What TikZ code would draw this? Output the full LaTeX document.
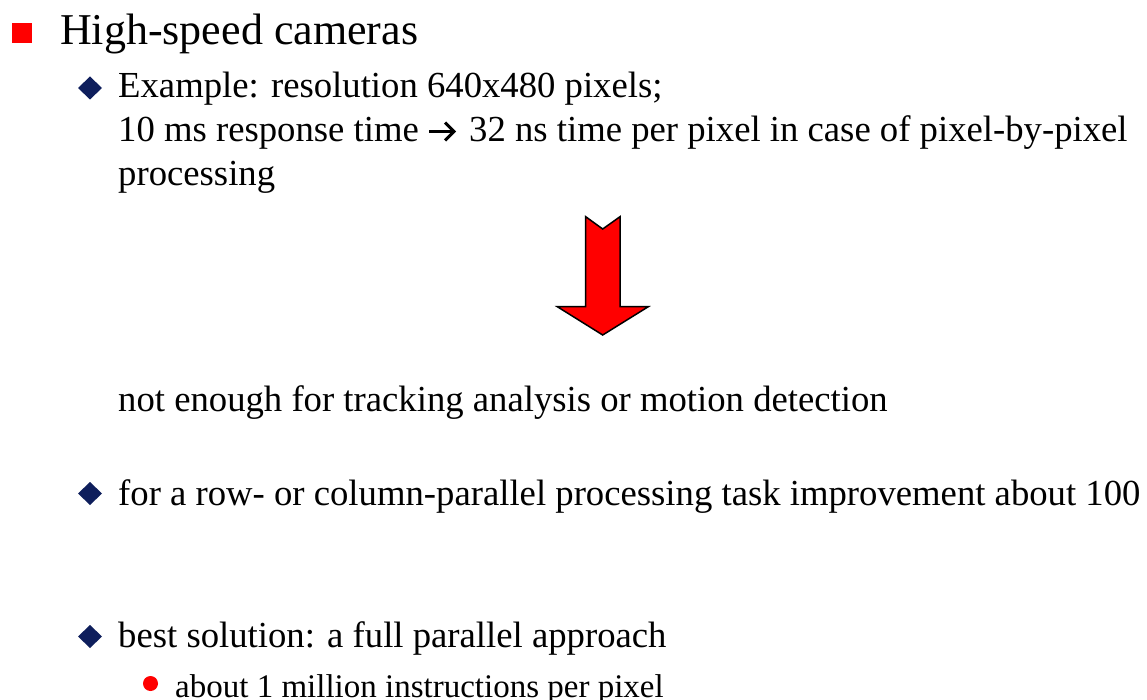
\documentclass[tikz,border=0pt]{standalone}
\usepackage{fontspec}
\setmainfont{Liberation Serif}
\definecolor{bulletnavy}{RGB}{14,30,92}
\definecolor{slidered}{RGB}{255,0,0}

\begin{document}
\begin{tikzpicture}[x=1pt,y=-1pt,
  lvlone/.style={anchor=base west, inner sep=0pt, font=\fontsize{44}{52}\selectfont},
  lvltwo/.style={anchor=base west, inner sep=0pt, font=\fontsize{36.7}{44}\selectfont},
  lvlthree/.style={anchor=base west, inner sep=0pt, font=\fontsize{33}{40}\selectfont},
  navydiamond/.pic={\fill[bulletnavy] (-12,0) -- (0,-11.5) -- (12,0) -- (0,11.5) -- cycle;},
  reddot/.pic={\fill[slidered] (0,0) circle[radius=7.5];},
  redsquare/.pic={\fill[slidered] (-10,-10) rectangle (10,10);},
  bigarrow/.style={fill=slidered, draw=black, line width=1.5pt, line join=miter},
  textarrow/.style={draw=black, line width=3pt, line join=miter},
]
\useasboundingbox (0,0) rectangle (1147,700);
\fill[white] (0,0) rectangle (1147,700);

% bullets
\pic at (22,33) {redsquare};
\pic at (90,88) {navydiamond};
\pic at (90,493.5) {navydiamond};
\pic at (90,636.5) {navydiamond};
\pic at (150.5,683.5) {reddot};

% block arrow
\draw[bigarrow] (585.7,216.7) -- (602.7,229) -- (620,216.7) -- (620,306.7)
  -- (648.3,306.7) -- (602.7,335) -- (557.3,306.7) -- (585.7,306.7) -- cycle;

% text
\node[lvlone] (title) at (60,45) {High-speed cameras};
\node[lvltwo] (exone) at (118,98) {Example: resolution 640x480 pixels;};
\node[lvltwo] (extwoa) at (118,142) {10 ms response time};
\node[lvltwo] (extwob) at (469,142) {32 ns time per pixel in case of pixel-by-pixel};
\node[lvltwo] (exthree) at (118,186) {processing};
\node[lvltwo] (notenough) at (118,411) {not enough for tracking analysis or motion detection};
\node[lvltwo] (rowpar) at (118,505) {for a row- or column-parallel processing task improvement about 100};
\node[lvltwo] (best) at (118,647) {best solution: a full parallel approach};
\node[lvlthree] (million) at (175,697) {about 1 million instructions per pixel};

% inline arrow between the two halves of the second example line
\coordinate (arrtail) at (429,131.5);
\coordinate (arrtip) at (454,131.5);
\draw[textarrow] (arrtail) -- (arrtip);
\draw[textarrow] ([shift={(-9,-9)}]arrtip) -- (arrtip) -- ([shift={(-9,9)}]arrtip);
\end{tikzpicture}
\end{document}
